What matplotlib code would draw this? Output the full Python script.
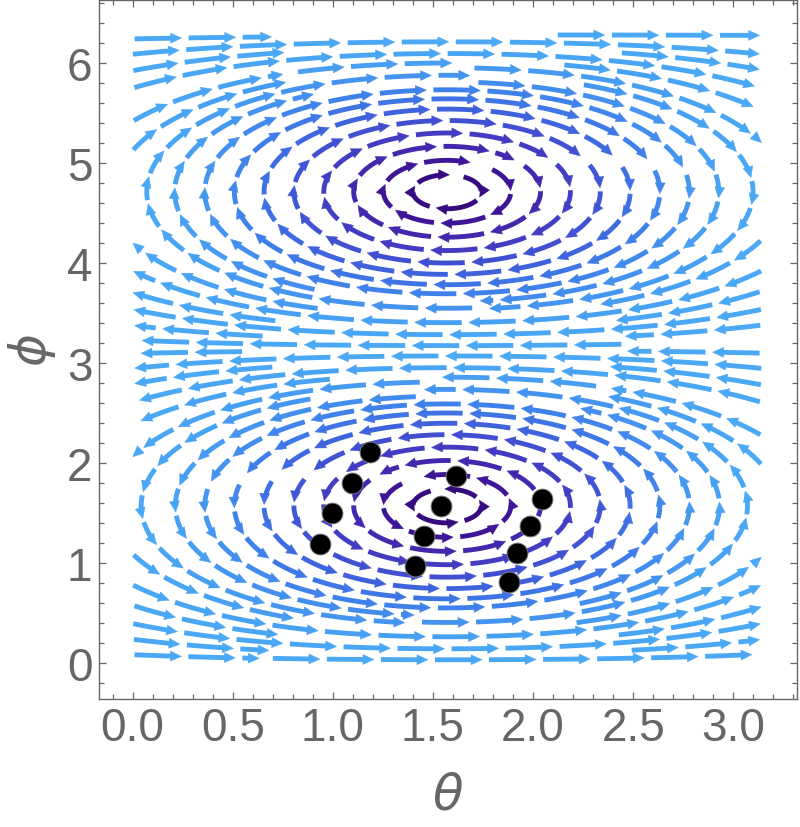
import math
from collections import deque

import numpy as np
import matplotlib
matplotlib.use("Agg")
import matplotlib.pyplot as plt
from matplotlib.collections import LineCollection, PolyCollection
from matplotlib.colors import LinearSegmentedColormap
from matplotlib.ticker import MultipleLocator

plt.rcParams['font.family'] = ['Liberation Sans', 'DejaVu Sans']

# ---------------- data ----------------
theta_points = [1.188, 1.097, 0.997, 0.937, 1.617, 1.539, 1.455, 1.409,
                2.047, 1.987, 1.919, 1.879]
phi_points = [2.113, 1.797, 1.497, 1.190, 1.873, 1.573, 1.273, 0.973,
              1.640, 1.373, 1.097, 0.813]
x_ticks = [0.0, 0.5, 1.0, 1.5, 2.0, 2.5, 3.0]
x_tick_labels = ["0.0", "0.5", "1.0", "1.5", "2.0", "2.5", "3.0"]
y_ticks = [0, 1, 2, 3, 4, 5, 6]
y_tick_labels = ["0", "1", "2", "3", "4", "5", "6"]
theta_domain = (0.0, np.pi)
phi_domain = (0.0, 2 * np.pi)
vortex_centers = [(np.pi / 2, np.pi / 2), (np.pi / 2, 3 * np.pi / 2)]

# vector field plotted:  dtheta = cos(phi),  dphi = -cos(theta) sin(phi)
def field(th, ph):
    return math.cos(ph), -math.cos(th) * math.sin(ph)

# ---------------- figure / axes ----------------
W, Hgt = 800, 828
fig = plt.figure(figsize=(W / 100, Hgt / 100), dpi=100)
ax_l, ax_b, ax_w, ax_h = 99.3, 128.0, 698.0, 699.3
ax = fig.add_axes([ax_l / W, ax_b / Hgt, ax_w / W, ax_h / Hgt])
xlim = (-0.1665, 3.32)
ylim = (-0.36, 6.633)
ax.set_xlim(*xlim)
ax.set_ylim(*ylim)
sx = ax_w / (xlim[1] - xlim[0])
sy = ax_h / (ylim[1] - ylim[0])

# ---------------- evenly spaced streamlines ----------------
X0, X1 = theta_domain
Y0, Y1 = phi_domain
DSEP = 0.145
DTEST = 0.55 * DSEP
STEP = 0.012
CELL = DSEP
grid = {}


def direc(x, y):
    u, v = field(x, y)
    n = math.hypot(u, v)
    if n < 1e-7:
        return None
    return u / n, v / n


def add_pt(x, y, lid, s, added):
    key = (int(x // CELL), int(y // CELL))
    grid.setdefault(key, []).append((x, y, lid, s))
    added.append(key)


def near(x, y, lid, s, dist):
    i, j = int(x // CELL), int(y // CELL)
    d2 = dist * dist
    for di in (-1, 0, 1):
        for dj in (-1, 0, 1):
            lst = grid.get((i + di, j + dj))
            if not lst:
                continue
            for (px, py, pl, ps) in lst:
                if pl == lid and abs(ps - s) < 3 * DSEP:
                    continue
                if (px - x) ** 2 + (py - y) ** 2 < d2:
                    return True
    return False


def inside(x, y):
    return X0 <= x <= X1 and Y0 <= y <= Y1


def integrate(x0, y0, sign, lid, added):
    pts = []
    x, y, s = x0, y0, 0.0
    for k in range(3000):
        d1 = direc(x, y)
        if d1 is None:
            break
        xm, ym = x + 0.5 * STEP * sign * d1[0], y + 0.5 * STEP * sign * d1[1]
        d2 = direc(xm, ym)
        if d2 is None:
            break
        nx, ny = x + STEP * sign * d2[0], y + STEP * sign * d2[1]
        ns = s + sign * STEP
        if not inside(nx, ny):
            break
        if near(nx, ny, lid, ns, DTEST):
            break
        x, y, s = nx, ny, ns
        pts.append((x, y, s))
        if k % 2 == 0:
            add_pt(x, y, lid, s, added)
    return pts


lines = []
queue = deque([(np.pi / 2, np.pi / 2 + 0.17), (np.pi / 2, 3 * np.pi / 2 + 0.17)])
grid_seeds = [(x, y) for y in np.arange(Y0 + DSEP / 2, Y1, DSEP)
              for x in np.arange(X0 + DSEP / 2, X1, DSEP)]
gi = 0
while True:
    if queue:
        sx0, sy0 = queue.popleft()
    elif gi < len(grid_seeds):
        sx0, sy0 = grid_seeds[gi]
        gi += 1
    else:
        break
    if not inside(sx0, sy0):
        continue
    if any(math.hypot(sx0 - cx, sy0 - cy) < 0.12 for cx, cy in vortex_centers):
        continue
    if near(sx0, sy0, -1, 0.0, 0.9 * DSEP):
        continue
    lid = len(lines)
    added = []
    add_pt(sx0, sy0, lid, 0.0, added)
    b = integrate(sx0, sy0, -1, lid, added)
    f = integrate(sx0, sy0, +1, lid, added)
    pts = b[::-1] + [(sx0, sy0, 0.0)] + f
    if len(pts) * STEP < 0.1:
        for key in added:
            lst = grid[key]
            grid[key] = [p for p in lst if p[2] != lid]
        lines.append([])
        continue
    lines.append(pts)
    for k in range(0, len(pts), 5):
        x, y, _ = pts[k]
        d = direc(x, y)
        if d:
            queue.append((x - d[1] * DSEP, y + d[0] * DSEP))
            queue.append((x + d[1] * DSEP, y - d[0] * DSEP))

# ---------------- dashes with arrow heads ----------------
cmap = LinearSegmentedColormap.from_list(
    "stream",
    [(0.0, "#2c0766"), (0.25, "#3d0c8c"), (0.5, "#4530b8"),
     (0.7, "#3f58d8"), (0.85, "#3f80ea"), (1.0, "#4aa8f5")])

DASH = 0.235
GAP = 0.035
HEAD_L = 11.0   # px
HEAD_W = 5.0    # px (half width)

shaft_segs, shaft_cols, heads, head_cols = [], [], [], []


def point_at(xs, ys, ss, t):
    return np.interp(t, ss, xs), np.interp(t, ss, ys)


for pts in lines:
    if not pts:
        continue
    arr = np.array([(p[0], p[1]) for p in pts])
    xs, ys = arr[:, 0], arr[:, 1]
    ds = np.hypot(np.diff(xs), np.diff(ys))
    ss = np.concatenate([[0.0], np.cumsum(ds)])
    total = ss[-1]
    a = 0.0
    while a < total:
        bnd = min(a + DASH, total)
        if bnd - a < 0.06:
            break
        xe, ye = point_at(xs, ys, ss, bnd)
        xp, yp = point_at(xs, ys, ss, bnd - 0.01)
        tx, ty = (xe - xp), (ye - yp)
        tn = math.hypot(tx, ty) or 1.0
        tx, ty = tx / tn, ty / tn
        rate = math.hypot(sx * tx, sy * ty)
        hl_data = HEAD_L / rate
        b_shaft = max(a + 0.005, bnd - 0.6 * hl_data)
        tt = np.linspace(a, b_shaft, max(3, int((b_shaft - a) / 0.01)))
        qx, qy = point_at(xs, ys, ss, tt)
        xm, ym = point_at(xs, ys, ss, 0.5 * (a + bnd))
        u, v = field(xm, ym)
        col = cmap(min(1.0, math.hypot(u, v)))
        shaft_segs.append(np.column_stack([qx, qy]))
        shaft_cols.append(col)
        px_t = np.array([sx * tx, sy * ty])
        px_t /= np.linalg.norm(px_t)
        px_n = np.array([-px_t[1], px_t[0]])
        base = -HEAD_L * px_t
        tri_px = [np.zeros(2), base + HEAD_W * px_n, base - HEAD_W * px_n]
        tri = [(xe + p[0] / sx, ye + p[1] / sy) for p in tri_px]
        heads.append(tri)
        head_cols.append(col)
        a = bnd + GAP

ax.add_collection(LineCollection(shaft_segs, colors=shaft_cols, linewidths=3.5,
                                 capstyle='butt', joinstyle='round', zorder=2))
ax.add_collection(PolyCollection(heads, facecolors=head_cols, edgecolors=head_cols,
                                 linewidths=0.3, zorder=2))

# ---------------- points ----------------
ax.plot(theta_points, phi_points, 'o', ms=15, mfc='black', mec='#7a7a7a',
        mew=0.7, zorder=4)

# ---------------- axes styling ----------------
gray = '#666666'
ax.set_xticks(x_ticks)
ax.set_xticklabels(x_tick_labels)
ax.set_yticks(y_ticks)
ax.set_yticklabels(y_tick_labels)
ax.xaxis.set_minor_locator(MultipleLocator(0.1))
ax.yaxis.set_minor_locator(MultipleLocator(0.2))
ax.tick_params(which='both', direction='in', top=True, right=True,
               color=gray, width=0.9, labelcolor=gray, labelsize=33, pad=5)
ax.tick_params(which='major', length=5.3)
ax.tick_params(which='minor', length=3.4)
for sp in ax.spines.values():
    sp.set_color(gray)
    sp.set_linewidth(1.0)

ax.set_xlabel(r"$\theta$", fontsize=36, color=gray)
ax.set_ylabel(r"$\phi$", fontsize=36, color=gray)
ax.xaxis.label.set_va('center')
ax.yaxis.label.set_va('center')
ax.xaxis.set_label_coords(0.5, -(797 - 700) / ax_h)
ax.yaxis.set_label_coords(-(99.3 - 32) / ax_w, 0.5)

fig.savefig("out.png", dpi=100)
